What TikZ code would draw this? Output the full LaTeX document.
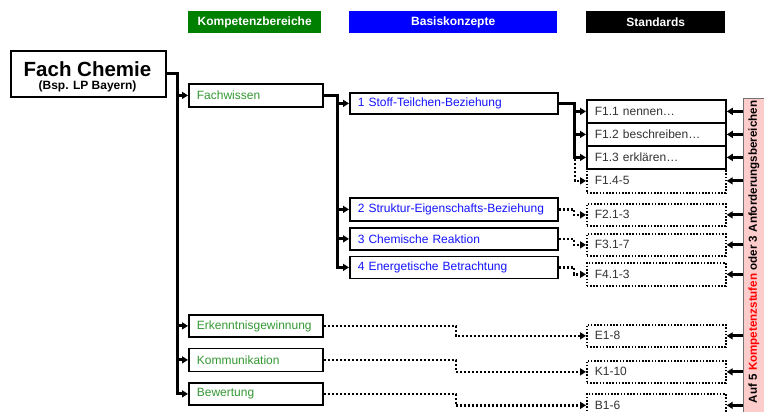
\documentclass[tikz,border=0pt]{standalone}
\usepackage{fontspec}
\setmainfont{Liberation Sans}
\usetikzlibrary{arrows.meta}
\definecolor{kgreen}{RGB}{0,128,0}
\definecolor{ktext}{RGB}{51,153,51}
\definecolor{btext}{RGB}{20,20,255}
\definecolor{stext}{RGB}{50,50,50}
\definecolor{barpink}{RGB}{255,204,204}
\tikzset{
  header/.style={anchor=north west, minimum height=22pt, inner sep=0pt,
    text=white, font=\fontsize{12}{14}\selectfont\bfseries},
  basebox/.style={anchor=north west, draw=black, line width=1.8pt, inner ysep=0pt,
    inner xsep=8pt, align=left, font=\fontsize{12}{14}\selectfont},
  kbox/.style={basebox, text width=118pt, text=ktext},
  bbox/.style={basebox, text width=192pt, text=btext},
  sbox/.style={basebox, text width=123pt, text=stext},
  dotbox/.style={line width=1.7pt, dash pattern=on 1.6pt off 1.6pt},
  conn/.style={line width=3pt, -{Triangle[length=6pt,width=7pt]}},
  dconn/.style={line width=2.6pt, dash pattern=on 2pt off 2pt, -{Triangle[length=6pt,width=7pt]}},
}
\begin{document}
\begin{tikzpicture}[x=1pt,y=-1pt]
\clip (0,0) rectangle (764,412);
\fill[white] (0,0) rectangle (764,412);

% column headers
\node[header, fill=kgreen, minimum width=133pt] (hk) at (188,11) {Kompetenzbereiche};
\node[header, fill=blue, minimum width=208pt] (hb) at (349,11) {Basiskonzepte};
\node[header, fill=black, minimum width=139pt] (hs) at (586,11) {Standards};

% subject
\node[anchor=north west, draw=black, line width=1.8pt, minimum width=155pt, minimum height=46pt,
  inner sep=0pt] (fach) at (10,50) {};
\node[anchor=base, inner sep=0pt, font=\fontsize{20.5}{22}\selectfont\bfseries] (fachtitle)
  at (87.5,77) {Fach Chemie};
\node[anchor=base, inner sep=0pt, font=\fontsize{12}{13}\selectfont\bfseries] (fachsub)
  at (87.5,90) {(Bsp. LP Bayern)};

% competence areas
\node[kbox, minimum height=23pt] (fw) at (188,83) {Fachwissen};
\node[kbox, minimum height=22pt] (ek) at (188,314) {Erkenntnisgewinnung};
\node[kbox, minimum height=23pt] (ko) at (188,347.5) {Kommunikation};
\node[kbox, minimum height=22pt] (bw) at (188,382) {Bewertung};

% basic concepts
\node[bbox, minimum height=21pt] (b1) at (349,92) {1 Stoff-Teilchen-Beziehung};
\node[bbox, minimum height=23pt] (b2) at (349,197) {2 Struktur-Eigenschafts-Beziehung};
\node[bbox, minimum height=22pt] (b3) at (349,227) {3 Chemische Reaktion};
\node[bbox, minimum height=22pt] (b4) at (349,255.5) {4 Energetische Betrachtung};

% standards
\node[sbox, minimum height=23pt] (f11) at (586,99) {F1.1 nennen…};
\node[sbox, minimum height=23pt] (f12) at (586,122) {F1.2 beschreiben…};
\node[sbox, minimum height=23pt] (f13) at (586,145) {F1.3 erklären…};
\node[sbox, dotbox, minimum height=24pt] (f14) at (586,168) {F1.4-5};
\node[sbox, dotbox, minimum height=22pt] (f2) at (586,203) {F2.1-3};
\node[sbox, dotbox, minimum height=22pt] (f3) at (586,233) {F3.1-7};
\node[sbox, dotbox, minimum height=23pt] (f4) at (586,262) {F4.1-3};
\node[sbox, dotbox, minimum height=22pt] (e1) at (586,324) {E1-8};
\node[sbox, dotbox, minimum height=22pt] (k1) at (586,360) {K1-10};
\node[sbox, dotbox, minimum height=23pt] (bb) at (586,393) {B1-6};

% levels bar
\node[anchor=north west, fill=barpink, draw=black!55, line width=0.8pt,
  minimum width=30pt, minimum height=330pt, inner sep=0pt] (bar) at (743,98) {};
\node[rotate=90, inner sep=0pt, font=\fontsize{11.6}{13}\selectfont\bfseries] (bartext) at (754,252)
  {Auf 5 \textcolor{red}{Kompetenzstufen} oder 3 Anforderungsbereichen};

% dotted links (drawn first, solid links on top)
\draw[dconn] (b1.east) -- ++(16,0) |- (f14.west);
\draw[dconn] (b2.east) -- ++(15,0) |- (f2.west);
\draw[dconn] (b3.east) -- ++(15,0) |- (f3.west);
\draw[dconn] (b4.east) -- ++(15,0) |- (f4.west);
\draw[dconn] (ek.east) -- ++(132,0) |- (e1.west);
\draw[dconn] (ko.east) -- ++(132,0) |- (k1.west);
\draw[dconn] (bw.east) -- ++(132,0) |- (bb.west);

% solid links
\foreach \t in {fw,ek,ko,bw}
  \draw[conn] (fach.east) -- ++(11,0) |- (\t.west);
\foreach \t in {b1,b2,b3,b4}
  \draw[conn] (fw.east) -- ++(14,0) |- (\t.west);
\foreach \t in {f11,f12,f13}
  \draw[conn] (b1.east) -- ++(16,0) |- (\t.west);
\foreach \t in {f11,f12,f13,f14,f2,f3,f4,e1,k1,bb}
  \draw[conn] (bar.west |- \t.east) -- (\t.east);
\end{tikzpicture}
\end{document}
